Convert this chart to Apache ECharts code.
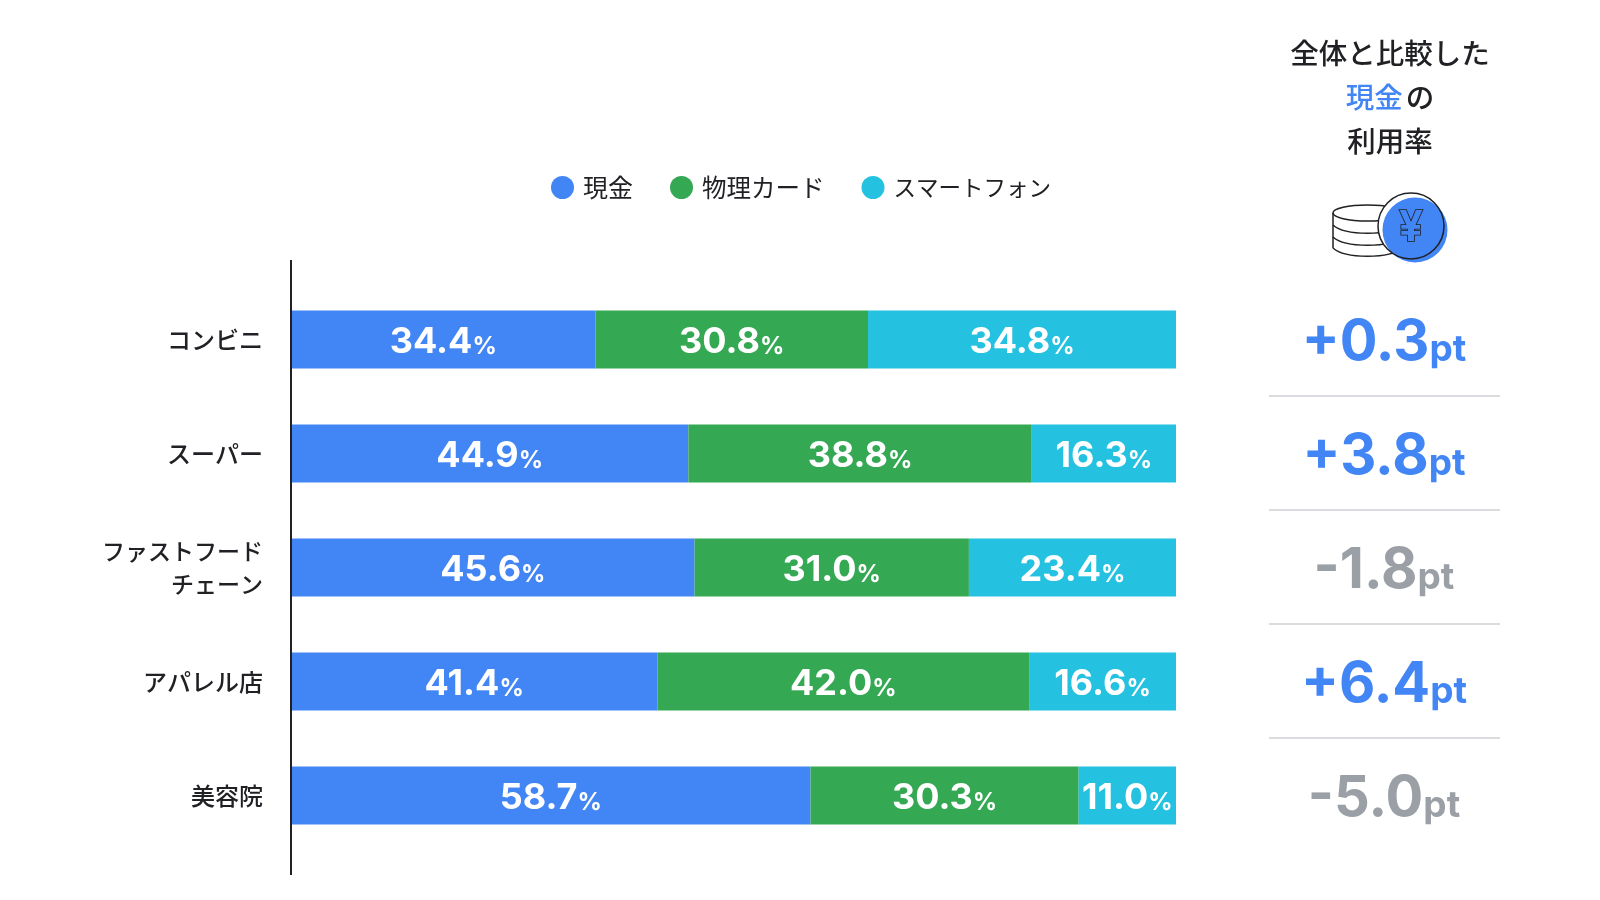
<!DOCTYPE html>
<html><head><meta charset="utf-8">
<style>html,body{margin:0;padding:0;background:#fff}#c{width:1600px;height:900px}</style>
<script src="https://cdn.jsdelivr.net/npm/echarts@6/dist/echarts.min.js"></script>
</head><body><div id="c"></div>
<script>
const categories = ['コンビニ','スーパー','ファストフード\nチェーン','アパレル店','美容院'];
const cash = [34.4,44.9,45.6,41.4,58.7];
const card = [30.8,38.8,31.0,42.0,30.3];
const phone = [34.8,16.3,23.4,16.6,11.0];
const deltas = ['+0.3','+3.8','-1.8','+6.4','-5.0'];
const seriesNames = ['現金','物理カード','スマートフォン'];
const BLUE='#4285F4',GREEN='#34A853',CYAN='#24C1E0',GRAY='#9AA0A6',INK='#202124';
const JP='"Noto Sans CJK JP"', NUM='Inter,Lato,"Noto Sans"';
const chart = echarts.init(document.getElementById('c'),null,{renderer:'canvas'});
const pct = p => ({
  show:true, position:'inside', offset:[0,3],
  formatter:o=>`{n|${o.value.toFixed(1)}}{p|%}`,
  rich:{ n:{fontFamily:NUM,fontWeight:700,fontSize:36,color:'#fff',lineHeight:44},
         p:{fontFamily:NUM,fontWeight:700,fontSize:24,color:'#fff',lineHeight:44,padding:[8,0,0,0]} }
});
const mk=(name,data,color)=>({name,type:'bar',stack:'a',data,barWidth:58,itemStyle:{color},label:pct(),silent:true,xAxisIndex:0,yAxisIndex:0});
const arc=(y)=>({type:'bezierCurve',shape:{x1:1333,y1:y,x2:1402,y2:y,cpx1:1345,cpy1:y+11,cpx2:1390,cpy2:y+11},style:{fill:'none',stroke:INK,lineWidth:1.5},z:5});
chart.setOption({
  animation:false,
  backgroundColor:'#fff',
  title:{
    left:1385, top:26, textAlign:'center',
    text:'全体と比較した\n{b|現金}{a|の}\n利用率',
    textStyle:{fontFamily:JP,fontSize:28.5,fontWeight:500,color:INK,lineHeight:44,
      rich:{b:{fontFamily:JP,fontSize:28.5,fontWeight:500,color:BLUE,lineHeight:44},
            a:{fontFamily:JP,fontSize:28.5,fontWeight:500,color:INK,lineHeight:44,padding:[0,0,0,3]}}}
  },
  legend:{
    left:546, top:170, icon:'circle', itemWidth:23, itemHeight:23, itemGap:37,
    data:[{name:seriesNames[0]},{name:seriesNames[1],textStyle:{fontSize:24.5}},{name:seriesNames[2],textStyle:{fontSize:22.5}}],
    selectedMode:false,
    textStyle:{fontFamily:JP,fontSize:25,color:INK,padding:[0,0,0,4]}
  },
  grid:[
    {left:291,top:282.5,width:885,height:570},
    {left:1269,top:282,width:231,height:570}
  ],
  xAxis:[
    {gridIndex:0,type:'value',min:0,max:100,show:false},
    {gridIndex:1,type:'value',min:0,max:1,show:false}
  ],
  yAxis:[
    {gridIndex:0,type:'category',inverse:true,
     data:categories.map(c=>c.includes('\n')?{value:c,textStyle:{fontSize:23}}:c),
     axisLine:{show:false},axisTick:{show:false},splitLine:{show:false},
     axisLabel:{margin:28,align:'right',fontFamily:JP,fontSize:24,fontWeight:500,color:INK,lineHeight:33,interval:0}},
    {gridIndex:1,type:'category',inverse:true,data:deltas,
     axisLine:{show:false},axisTick:{show:false},
     splitLine:{show:true,showMinLine:false,showMaxLine:false,lineStyle:{color:'#DADCE0',width:2},interval:0},
     axisLabel:{inside:true,margin:115,align:'center',interval:0,
       formatter:v=>{const k=v[0]==='+'?'u':'d';return `{${k}|${v}}{${k}p|pt}`;},
       rich:{
        u:{fontFamily:NUM,fontWeight:700,fontSize:56,color:BLUE,lineHeight:70,padding:[8,0,0,0]},
        up:{fontFamily:NUM,fontWeight:700,fontSize:37,color:BLUE,lineHeight:70,padding:[22,0,0,0]},
        d:{fontFamily:NUM,fontWeight:700,fontSize:56,color:GRAY,lineHeight:70,padding:[8,0,0,0]},
        dp:{fontFamily:NUM,fontWeight:700,fontSize:37,color:GRAY,lineHeight:70,padding:[22,0,0,0]}
       }}}
  ],
  series:[
    mk(seriesNames[0],cash,BLUE),
    mk(seriesNames[1],card,GREEN),
    mk(seriesNames[2],phone,CYAN)
  ],
  graphic:[
    {type:'line',shape:{x1:291,y1:260,x2:291,y2:875},style:{stroke:INK,lineWidth:2},z:10},
    {type:'ellipse',shape:{cx:1367.5,cy:213,rx:34.5,ry:8},style:{fill:'#fff',stroke:INK,lineWidth:1.5},z:5},
    {type:'line',shape:{x1:1333,y1:213,x2:1333,y2:248},style:{stroke:INK,lineWidth:1.5},z:5},
    arc(225),arc(237),arc(248),
    {type:'circle',shape:{cx:1411,cy:226,r:33},style:{fill:'#fff'},z:6},
    {type:'circle',shape:{cx:1415,cy:230,r:32.5},style:{fill:BLUE},z:7},
    {type:'circle',shape:{cx:1411,cy:226,r:33},style:{fill:'none',stroke:INK,lineWidth:1.5},z:8},
    {type:'text',x:1411,y:228,z:9,style:{text:'¥',fontFamily:NUM,fontWeight:700,fontSize:42,fill:BLUE,stroke:INK,lineWidth:1.6,textAlign:'center',textVerticalAlign:'middle'}}
  ]
});
</script></body></html>
